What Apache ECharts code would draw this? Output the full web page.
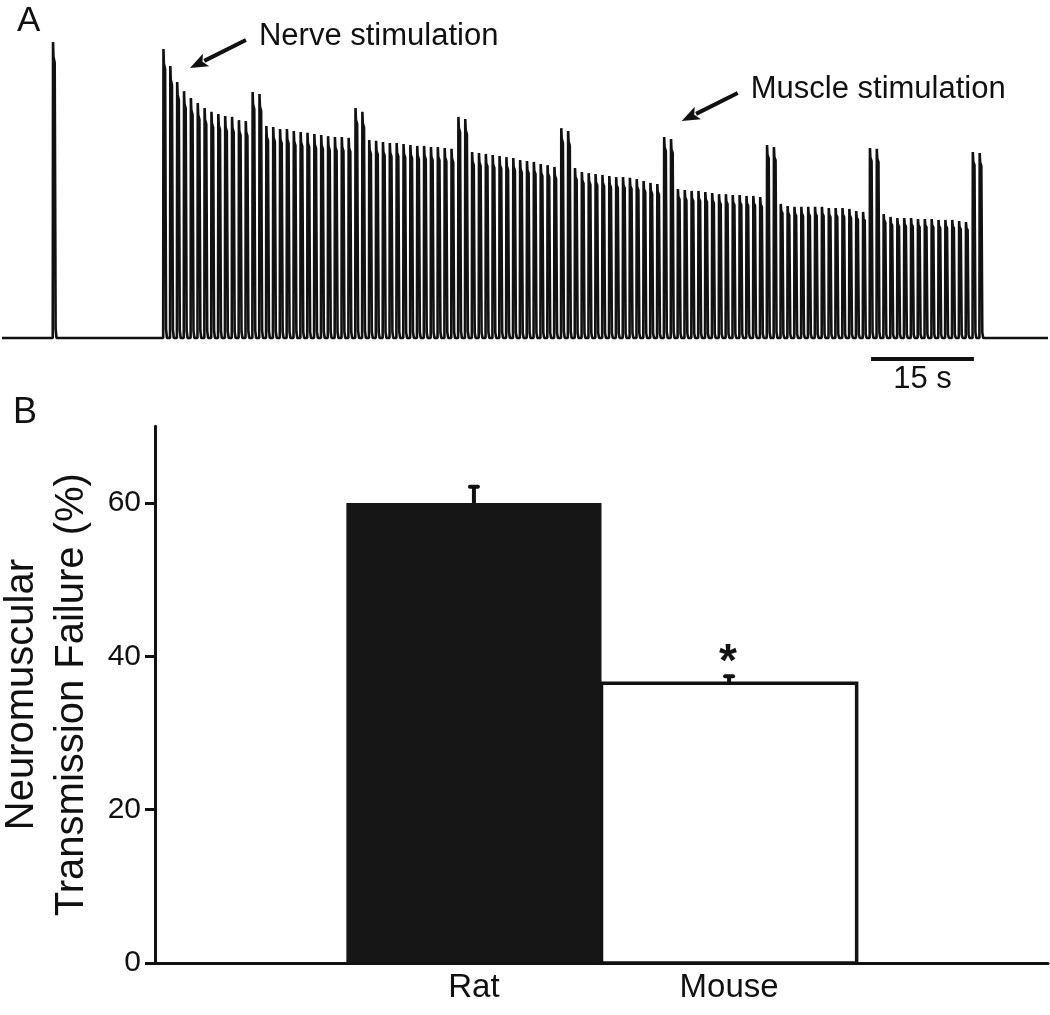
<!DOCTYPE html>
<html>
<head>
<meta charset="utf-8">
<title>Neuromuscular transmission failure</title>
<script src="https://cdn.jsdelivr.net/npm/echarts@6/dist/echarts.min.js"></script>
<style>
	html, body { margin: 0; padding: 0; background: #fff; }
	#chart { width: 1050px; height: 1015px; }
</style>
</head>
<body>
<div id="chart"></div>
<script>
// ---- panel A : force trace ----
// peak force of every twitch, % of the single control twitch
var singleTwitchTime = -16.1;      // s, before the train starts
var singleTwitchPeak = 100;
// train at 1 Hz, 8 cycles of 13 nerve twitches + 2 direct muscle twitches
var trainPeaks = [
	97.6, 91.9, 86.5, 83.4, 81.1, 79.4, 77.7, 76.4, 75.7, 75.0, 74.7, 73.6, 73.3, 83.1, 82.4,
	71.6, 71.3, 70.6, 70.6, 69.9, 69.6, 69.3, 68.9, 68.6, 68.2, 67.9, 67.9, 67.6, 77.7, 76.4,
	66.9, 66.6, 66.2, 65.9, 65.9, 65.5, 65.2, 64.9, 64.9, 64.5, 64.5, 64.2, 63.9, 74.7, 74.0,
	62.8, 62.5, 62.2, 61.8, 61.5, 61.1, 60.8, 60.1, 59.8, 59.5, 58.8, 58.4, 57.8, 70.9, 69.9,
	57.4, 56.1, 55.7, 55.4, 55.1, 54.7, 54.4, 54.4, 54.1, 53.7, 53.0, 52.4, 52.0, 67.9, 67.2,
	50.3, 50.0, 49.7, 49.7, 49.3, 49.0, 48.6, 48.6, 48.3, 48.3, 48.0, 48.0, 47.6, 65.2, 64.5,
	45.3, 44.6, 44.3, 44.3, 44.3, 44.3, 44.3, 43.9, 43.9, 43.9, 43.6, 42.9, 42.6, 64.2, 63.9,
	41.9, 40.9, 40.5, 40.5, 40.5, 40.2, 40.2, 40.2, 39.9, 39.9, 39.9, 39.5, 39.2, 62.8, 62.5
];
// shape of one twitch: [time after stimulus (s), fraction of peak]
var twitchShape = [[0, 0], [0.04, 1], [0.1, 0.95], [0.28, 0.93], [0.42, 0.03], [0.55, 0]];
var traceStart = -23.5, traceEnd = 129;
var noteText = ['Nerve stimulation', 'Muscle stimulation'];
var noteTime = [3.9, 75.6];
var noteForce = [91.2, 73.3];
var scaleBarStart = 103.2, scaleBarLen = 15, scaleBarText = '15 s';

// ---- panel B : bars ----
var species = ['Rat', 'Mouse'];
var failure = [60.0, 36.5];
var failureSem = [2.1, 0.9];
var signif = ['', '*'];
var yTicks = [0, 20, 40, 60];

var FONT = "'Liberation Sans', Arial, sans-serif";
var INK = '#111';

function buildTrace() {
	var pts = [[traceStart, 0]];
	function addTwitch(t0, peak) {
		for (var k = 0; k < twitchShape.length; k++) {
			pts.push([t0 + twitchShape[k][0], peak * twitchShape[k][1]]);
		}
	}
	addTwitch(singleTwitchTime, singleTwitchPeak);
	for (var i = 0; i < trainPeaks.length; i++) {
		addTwitch(i, trainPeaks[i]);
	}
	pts.push([traceEnd, 0]);
	return pts;
}

var barOffset = 1.25;   // centre of first bar on the x scale

function createChart() {
	var myChart = echarts.init(document.getElementById('chart'));

	var option = {
		animation: false,
		backgroundColor: '#fff',
		textStyle: { fontFamily: FONT, color: INK },
		title: [
			{ text: 'A', left: 12, top: -1, textStyle: { fontFamily: FONT, fontSize: 35, fontWeight: 'normal', color: INK } },
			{ text: 'B', left: 8, top: 390, textStyle: { fontFamily: FONT, fontSize: 36, fontWeight: 'normal', color: INK } }
		],
		grid: [
			{ left: 2, right: 2, top: 42, height: 355.2, outerBoundsMode: 'none' },
			{ left: 155, right: 2, top: 426.3, bottom: 52, outerBoundsMode: 'none' }
		],
		xAxis: [
			{ gridIndex: 0, type: 'value', min: traceStart, max: traceEnd, show: false },
			{
				gridIndex: 1, type: 'value', min: 0, max: 3.5,
				axisLine: { show: true, lineStyle: { color: INK, width: 3 } },
				axisTick: { show: false },
				splitLine: { show: false },
				axisLabel: {
					customValues: species.map(function (s, i) { return barOffset + i; }),
					formatter: function (v) {
						return species[Math.round(v - barOffset)] || '';
					},
					fontFamily: FONT, fontSize: 33, color: INK, margin: 8
				}
			}
		],
		yAxis: [
			{ gridIndex: 0, type: 'value', min: -20, max: 100, show: false },
			{
				gridIndex: 1, type: 'value', min: 0, max: 70,
				name: 'Neuromuscular\nTransmission Failure (%)',
				nameLocation: 'middle', nameRotate: 90, nameGap: 58,
				nameMoveOverlap: false,
				nameTextStyle: { fontFamily: FONT, fontSize: 40, lineHeight: 50, color: INK },
				axisLine: { show: true, lineStyle: { color: INK, width: 3 } },
				axisTick: { show: true, length: 10, lineStyle: { color: INK, width: 3 }, customValues: yTicks },
				axisLabel: { customValues: yTicks, fontFamily: FONT, fontSize: 30, color: INK, margin: 14 },
				splitLine: { show: false }
			}
		],
		series: [
			{
				name: 'force',
				type: 'line',
				xAxisIndex: 0, yAxisIndex: 0,
				data: buildTrace(),
				showSymbol: false,
				silent: true,
				clip: false,
				lineStyle: { color: INK, width: 2.6 }
			},
			{
				// arrows + labels
				name: 'notes',
				type: 'custom',
				xAxisIndex: 0, yAxisIndex: 0,
				silent: true,
				data: noteText.map(function (t, i) { return [noteTime[i], noteForce[i], i]; }),
				renderItem: function (params, api) {
					var tip = api.coord([api.value(0), api.value(1)]);
					var tail = [tip[0] + 56, tip[1] - 28];
					var dx = tip[0] - tail[0], dy = tip[1] - tail[1];
					var len = Math.sqrt(dx * dx + dy * dy);
					var ux = dx / len, uy = dy / len;
					var hl = 18, hw = 7;
					var base = [tip[0] - ux * hl, tip[1] - uy * hl];
					return {
						type: 'group',
						children: [
							{ type: 'line', shape: { x1: tail[0], y1: tail[1], x2: base[0] + ux * 2, y2: base[1] + uy * 2 }, style: { stroke: INK, lineWidth: 4 } },
							{ type: 'polygon', shape: { points: [tip, [base[0] - uy * hw, base[1] + ux * hw], [base[0] + ux * 4, base[1] + uy * 4], [base[0] + uy * hw, base[1] - ux * hw]] }, style: { fill: INK } },
							{ type: 'text', x: tail[0] + 13, y: tail[1] - 3.5, style: { text: noteText[api.value(2)], font: '31px ' + FONT, fill: INK, textAlign: 'left', textVerticalAlign: 'middle' } }
						]
					};
				}
			},
			{
				name: 'scale',
				type: 'custom',
				xAxisIndex: 0, yAxisIndex: 0,
				silent: true,
				data: [[scaleBarStart, scaleBarLen]],
				renderItem: function (params, api) {
					var a = api.coord([api.value(0), -7.1]);
					var b = api.coord([api.value(0) + api.value(1), -7.1]);
					return {
						type: 'group',
						children: [
							{ type: 'line', shape: { x1: a[0], y1: a[1], x2: b[0], y2: b[1] }, style: { stroke: INK, lineWidth: 4 } },
							{ type: 'text', x: (a[0] + b[0]) / 2, y: a[1] + 20.5, style: { text: scaleBarText, font: '31px ' + FONT, fill: INK, textAlign: 'center', textVerticalAlign: 'middle' } }
						]
					};
				}
			},
			{
				name: 'failure',
				type: 'custom',
				xAxisIndex: 1, yAxisIndex: 1,
				silent: true,
				data: species.map(function (s, i) { return [i, failure[i], failureSem[i]]; }),
				renderItem: function (params, api) {
					var i = api.value(0);
					var c = barOffset + i;
					var p0 = api.coord([c - 0.5, 0]);
					var p1 = api.coord([c + 0.5, api.value(1)]);
					var style = i === 0 ? { fill: '#161616' } : { fill: '#fff', stroke: INK, lineWidth: 3.5 };
					return {
						type: 'rect',
						shape: { x: p0[0], y: p1[1], width: p1[0] - p0[0], height: p0[1] - p1[1] },
						style: style
					};
				}
			},
			{
				name: 'sem',
				type: 'custom',
				xAxisIndex: 1, yAxisIndex: 1,
				silent: true,
				z: 5,
				data: species.map(function (s, i) { return [i, failure[i], failureSem[i]]; }),
				renderItem: function (params, api) {
					var i = api.value(0);
					var c = barOffset + i;
					var top = api.coord([c, api.value(1)]);
					var cap = api.coord([c, api.value(1) + api.value(2)]);
					var kids = [
						{ type: 'line', shape: { x1: top[0], y1: top[1], x2: cap[0], y2: cap[1] }, style: { stroke: INK, lineWidth: 4 } },
						{ type: 'line', shape: { x1: cap[0] - 4, y1: cap[1], x2: cap[0] + 4, y2: cap[1] }, style: { stroke: INK, lineWidth: 4, lineCap: 'round' } }
					];
					if (signif[i]) {
						kids.push({ type: 'text', x: cap[0] - 1, y: cap[1] - 13, style: { text: signif[i], font: 'bold 46px ' + FONT, fill: INK, textAlign: 'center', textVerticalAlign: 'middle' } });
					}
					return { type: 'group', children: kids };
				}
			}
		]
	};
	myChart.setOption(option);
}

createChart();
</script>
</body>
</html>
